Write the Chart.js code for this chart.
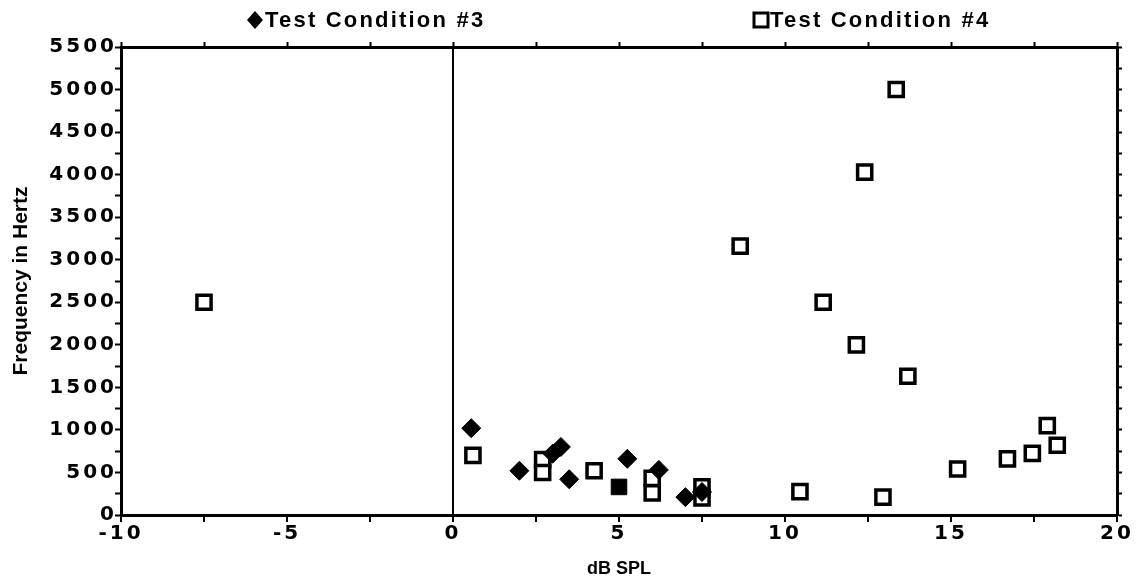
<!DOCTYPE html>
<html>
<head>
<meta charset="utf-8">
<script src="https://cdn.jsdelivr.net/npm/chart.js@4"></script>
<style>
  html, body { margin: 0; padding: 0; background: #fff; }
  #wrap { width: 1142px; height: 580px; }
</style>
</head>
<body>
<div id="wrap"><canvas id="scatter"></canvas></div>
<script>
// Test Condition #3 (filled diamonds)
const cond3X = [0.55, 2.0, 3.0, 3.25, 3.5, 5.25, 6.2, 7.0, 7.5];
const cond3Y = [1020, 520, 720, 800, 420, 660, 530, 210, 270];

// Test Condition #4 (open squares)
const cond4X = [-7.5, 0.6, 2.7, 2.7, 4.25, 6.0, 6.0, 7.5, 7.5, 8.65, 10.45, 11.15, 12.15, 12.4, 12.95, 13.35, 13.7, 15.2, 16.7, 17.45, 17.9, 18.2];
const cond4Y = [2500, 700, 650, 500, 520, 430, 260, 330, 200, 3160, 275, 2500, 2000, 4030, 210, 5000, 1630, 540, 660, 725, 1050, 820];

// both conditions on the same spot (solid square)
const bothX = [5.0];
const bothY = [330];

const legendNames = ['Test Condition #3', 'Test Condition #4'];

const xMin = -10, xMax = 20, xStep = 2.5;
const yMin = 0, yMax = 5500, yStep = 250;

const toPoints = (xs, ys) => xs.map((x, i) => ({ x: x, y: ys[i] }));

// wide tick digits: letter spacing only while the tick labels are drawn (ticks.z = 1)
const tickSpacing = {
    id: 'tickSpacing',
    afterDatasetsDraw(chart) {
        chart.ctx.letterSpacing = '3px';
    },
    afterDraw(chart) {
        chart.ctx.letterSpacing = '0px';
    }
};

// legend laid out like the original: two items far apart above the frame
const topLegend = {
    id: 'topLegend',
    afterDraw(chart) {
        const ctx = chart.ctx;
        ctx.save();
        ctx.letterSpacing = '2.2px';
        ctx.font = 'bold 22px "Liberation Sans", Arial, sans-serif';
        ctx.fillStyle = '#000';
        ctx.textBaseline = 'middle';
        const y = 20;

        // diamond
        ctx.beginPath();
        ctx.moveTo(255, y - 9);
        ctx.lineTo(263, y);
        ctx.lineTo(255, y + 9);
        ctx.lineTo(247, y);
        ctx.closePath();
        ctx.fill();
        ctx.fillText(legendNames[0], 265, y + 1);

        // open square
        ctx.lineWidth = 3;
        ctx.strokeStyle = '#000';
        ctx.strokeRect(754, y - 7, 14, 14);
        ctx.fillText(legendNames[1], 770, y + 1);
        ctx.restore();
    }
};

const tickFont = { family: '"DejaVu Sans", sans-serif', size: 20, weight: 'bold' };
const titleFont = { family: '"Liberation Sans", Arial, sans-serif', size: 18, weight: 'bold' };

new Chart(document.getElementById('scatter'), {
    type: 'scatter',
    plugins: [tickSpacing, topLegend],
    data: {
        datasets: [
            {
                label: legendNames[0],
                data: toPoints(cond3X, cond3Y),
                pointStyle: 'rectRot',
                pointRadius: 9.5,
                pointHoverRadius: 9.5,
                backgroundColor: '#000',
                borderColor: '#000',
                borderWidth: 1
            },
            {
                label: 'both',
                data: toPoints(bothX, bothY),
                pointStyle: 'rect',
                pointRadius: 11,
                pointHoverRadius: 11,
                backgroundColor: '#000',
                borderColor: '#000',
                borderWidth: 1
            },
            {
                label: legendNames[1],
                data: toPoints(cond4X, cond4Y),
                pointStyle: 'rect',
                pointRadius: 10,
                pointHoverRadius: 10,
                backgroundColor: '#fff',
                borderColor: '#000',
                borderWidth: 3.5
            }
        ]
    },
    options: {
        responsive: true,
        maintainAspectRatio: false,
        animation: false,
        layout: { padding: 0 },
        plugins: {
            legend: { display: false },
            tooltip: { enabled: false }
        },
        scales: {
            x: {
                type: 'linear',
                position: 'bottom',
                min: xMin,
                max: xMax,
                afterBuildTicks: axis => {
                    axis.ticks = [];
                    for (let v = xMin; v <= xMax; v += xStep) axis.ticks.push({ value: v });
                },
                afterFit: axis => { axis.height = 65; },
                border: { display: true, color: '#000', width: 3 },
                grid: {
                    drawOnChartArea: true,
                    color: c => (c.tick && c.tick.value === 0 ? '#000' : 'rgba(0,0,0,0)'),
                    lineWidth: 2,
                    tickColor: '#000',
                    tickWidth: 2,
                    tickLength: 7
                },
                ticks: {
                    z: 1,
                    autoSkip: false,
                    maxRotation: 0,
                    padding: 0,
                    color: '#000',
                    font: tickFont,
                    callback: v => (v % 5 === 0 ? String(v) : '')
                },
                title: {
                    display: true,
                    text: 'dB SPL',
                    color: '#000',
                    font: titleFont,
                    padding: { top: 0, bottom: 0 }
                }
            },
            x2: {
                type: 'linear',
                position: 'top',
                min: xMin,
                max: xMax,
                afterBuildTicks: axis => {
                    axis.ticks = [];
                    for (let v = xMin; v <= xMax; v += xStep) axis.ticks.push({ value: v });
                },
                afterFit: axis => { axis.height = 47; },
                border: { display: true, color: '#000', width: 3 },
                grid: { drawOnChartArea: false, tickColor: '#000', tickWidth: 2, tickLength: 5 },
                ticks: { display: false }
            },
            y: {
                type: 'linear',
                position: 'left',
                min: yMin,
                max: yMax,
                afterBuildTicks: axis => {
                    axis.ticks = [];
                    for (let v = yMin; v <= yMax; v += yStep) axis.ticks.push({ value: v });
                },
                afterFit: axis => { axis.width = 121; },
                border: { display: true, color: '#000', width: 3 },
                grid: { drawOnChartArea: false, tickColor: '#000', tickWidth: 2, tickLength: 6 },
                ticks: {
                    z: 1,
                    autoSkip: false,
                    padding: -2,
                    color: '#000',
                    font: tickFont,
                    callback: v => (v % 500 === 0 ? String(v) : '')
                },
                title: {
                    display: true,
                    text: 'Frequency in Hertz',
                    color: '#000',
                    font: { family: '"Liberation Sans", Arial, sans-serif', size: 21, weight: 'bold' },
                    padding: { top: 9, bottom: 0 }
                }
            },
            y2: {
                type: 'linear',
                position: 'right',
                min: yMin,
                max: yMax,
                afterBuildTicks: axis => {
                    axis.ticks = [];
                    for (let v = yMin; v <= yMax; v += yStep) axis.ticks.push({ value: v });
                },
                afterFit: axis => { axis.width = 25; },
                border: { display: true, color: '#000', width: 3 },
                grid: { drawOnChartArea: false, tickColor: '#000', tickWidth: 2, tickLength: 5 },
                ticks: { display: false }
            }
        }
    }
});
</script>
</body>
</html>
